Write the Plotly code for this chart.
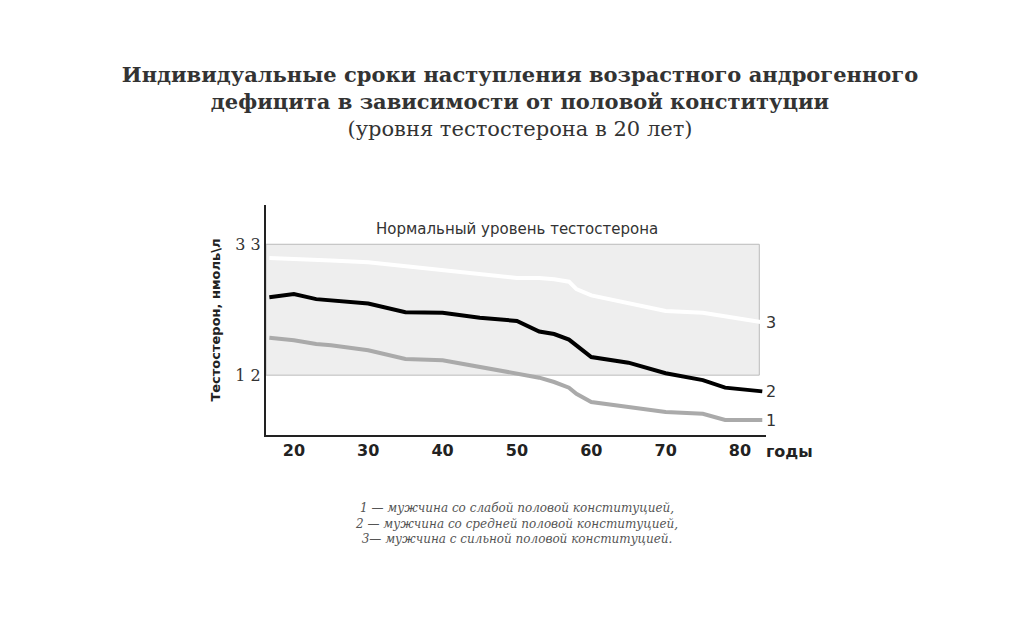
import plotly.graph_objects as go

ages = [16.7, 20, 23, 25, 30, 35, 40, 45, 50, 53, 55, 57, 58, 60, 65, 70, 75, 78, 83]
strong = [30.8, 30.7, 30.5, 30.4, 30.1, 29.5, 28.8, 28.2, 27.6, 27.6, 27.4, 27.0, 25.8, 24.8, 23.5, 22.3, 22.0, 21.4, 20.5]
medium = [24.5, 25.0, 24.2, 24.0, 23.5, 22.1, 22.0, 21.2, 20.7, 19.0, 18.6, 17.7, 16.8, 14.9, 14.0, 12.3, 11.2, 10.0, 9.4]
weak = [18.0, 17.6, 17.0, 16.8, 16.0, 14.6, 14.4, 13.3, 12.2, 11.6, 10.9, 10.0, 9.0, 7.7, 6.9, 6.1, 5.8, 4.8, 4.8]
x_ticks = [20, 30, 40, 50, 60, 70, 80]
x_tick_labels = ["<b>%d</b>" % v for v in x_ticks]
y_ticks = [12, 33]
y_tick_labels = ["1 2", "3 3"]
norm_low, norm_high = 12, 33

fig = go.Figure()
fig.add_shape(type="rect", x0=16.25, x1=82.6, y0=norm_low, y1=norm_high,
              fillcolor="#eeeeee", line=dict(color="#bbbbbb", width=1), layer="below")
for ys, col, lab in [(strong, "white", "3"), (medium, "black", "2"), (weak, "#aaaaaa", "1")]:
    fig.add_trace(go.Scatter(x=ages, y=ys, mode="lines", line=dict(color=col, width=4), showlegend=False))
    fig.add_annotation(x=83.2, y=ys[-1], text=lab, showarrow=False, xanchor="left",
                       font=dict(size=16, color="#333", family="DejaVu Sans"))
fig.add_annotation(xref="paper", yref="paper", x=0.995, y=-0.02, yanchor="top", text="<b>годы</b>",
                   showarrow=False, xanchor="left",
                   font=dict(size=16, color="#222", family="DejaVu Sans"))
fig.add_annotation(x=50, y=35.5, text="Нормальный уровень тестостерона", showarrow=False,
                   font=dict(size=15, color="#333", family="DejaVu Sans"))

fig.update_xaxes(range=[16.25, 83.5], tickvals=x_ticks, ticktext=x_tick_labels, showgrid=False,
                 zeroline=False, showline=True, linecolor="#222", linewidth=2, ticks="",
                 tickfont=dict(size=16, family="DejaVu Sans", color="#222"))
fig.update_yaxes(range=[2.4, 39.3], tickvals=y_ticks, ticktext=y_tick_labels, showgrid=False,
                 zeroline=False, showline=True, linecolor="#222", linewidth=2, ticks="",
                 tickfont=dict(size=16, family="DejaVu Serif", color="#333"),
                 title=dict(text="<b>Тестостерон, нмоль\\л</b>", standoff=12,
                            font=dict(size=13, family="DejaVu Sans", color="#222")))

fig.update_layout(
    width=1024, height=640, margin=dict(l=258, r=266, t=197, b=213),
    paper_bgcolor="white", plot_bgcolor="white",
    title=dict(text="<b>Индивидуальные сроки наступления возрастного андрогенного<br>дефицита в зависимости от половой конституции</b><br>(уровня тестостерона в 20 лет)",
               x=0.5, xanchor="center", y=0.885, yanchor="top",
               font=dict(size=21, family="DejaVu Serif", color="#333")),
)
fig.add_annotation(xref="paper", yref="paper", x=0.5, y=-0.28, yanchor="top", showarrow=False,
                   text="<i>1 — мужчина со слабой половой конституцией,<br>2 — мужчина со средней половой конституцией,<br>3— мужчина с сильной половой конституцией.</i>",
                   font=dict(size=12, family="DejaVu Serif", color="#555"))
fig.write_html("out.html")
